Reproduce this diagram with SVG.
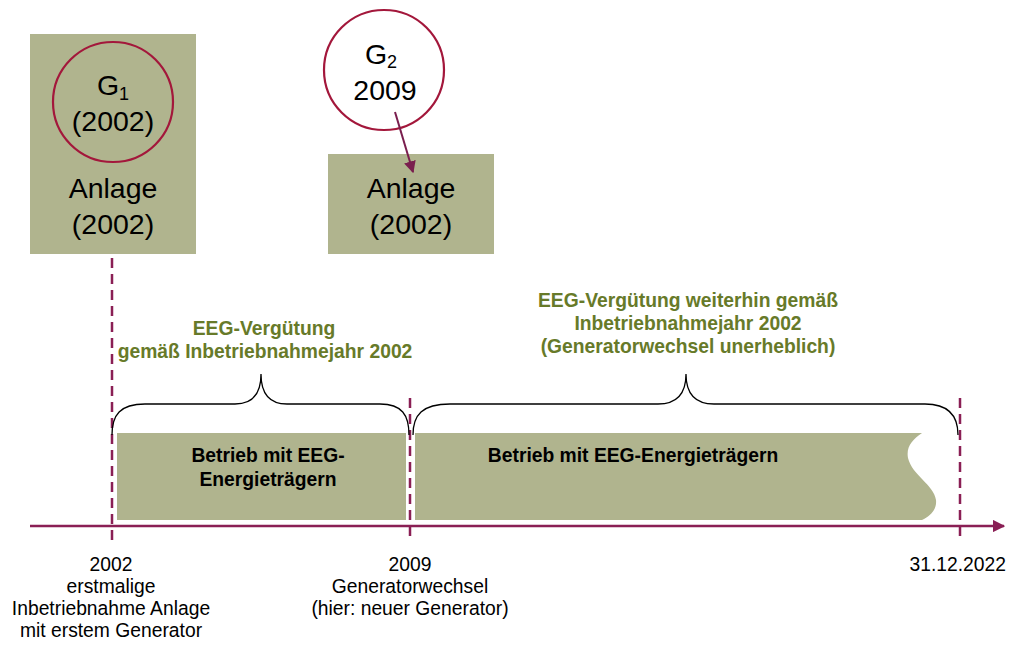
<svg xmlns="http://www.w3.org/2000/svg" width="1009" height="645" viewBox="0 0 1009 645">
<defs>
<style>
.box{fill:#b0b48e}
.circ{fill:none;stroke:#a3173b;stroke-width:2.2}
.t{font-family:"Liberation Sans",Arial,sans-serif;fill:#000;text-anchor:middle}
.end{text-anchor:end}
.big{font-size:28.5px}
.lbl{font-size:19.3px}
.bold{font-size:19.3px;font-weight:bold}
.green{font-family:"Liberation Sans",Arial,sans-serif;font-size:19.3px;font-weight:bold;fill:#677a29;text-anchor:middle}
.dash{stroke:#8a1f55;stroke-width:2.5;stroke-dasharray:10 6;fill:none}
.brace{fill:none;stroke:#000;stroke-width:1.3}
</style>
<marker id="ah" viewBox="0 0 10 10" refX="9" refY="5" markerWidth="5" markerHeight="5" orient="auto" markerUnits="strokeWidth">
<path d="M0,0 L10,5 L0,10 z" fill="#8a1f55"/>
</marker>
<marker id="ah2" viewBox="0 0 10 10" refX="9" refY="5" markerWidth="6" markerHeight="6" orient="auto" markerUnits="strokeWidth">
<path d="M0,0 L10,5 L0,10 z" fill="#7a1e4e"/>
</marker>
</defs>

<g id="anlage1">
<rect class="box" x="30" y="34" width="166" height="220"/>
<circle class="circ" cx="113" cy="102" r="60"/>
<text class="t big" x="113" y="95">G<tspan font-size="18" dy="5">1</tspan></text>
<text class="t big" x="113" y="131">(2002)</text>
<text class="t big" x="113" y="198">Anlage</text>
<text class="t big" x="113" y="234">(2002)</text>
</g>

<g id="generator2">
<circle class="circ" cx="384" cy="70" r="60"/>
<text class="t big" x="381" y="64">G<tspan font-size="18" dy="4">2</tspan></text>
<text class="t big" x="385" y="100">2009</text>
</g>

<g id="anlage2">
<rect class="box" x="328" y="154" width="166" height="100"/>
<text class="t big" x="411" y="198">Anlage</text>
<text class="t big" x="411" y="234">(2002)</text>
</g>

<g id="betrieb1">
<rect class="box" x="117" y="433" width="289" height="87"/>
<text class="t bold" x="268" y="462">Betrieb mit EEG-</text>
<text class="t bold" x="268" y="486">Energieträgern</text>
</g>

<g id="betrieb2">
<path class="box" d="M415,433 L922,433 C912,440 906,447 908,458 C912,475 934,485 936,500 C937,510 930,516 922,520 L415,520 z"/>
<text class="t bold" x="633" y="462">Betrieb mit EEG-Energieträgern</text>
</g>

<g id="verguetung1">
<text class="green" x="264" y="335">EEG-Vergütung</text>
<text class="green" x="265" y="358">gemäß Inbetriebnahmejahr 2002</text>
</g>

<g id="verguetung2">
<text class="green" x="688" y="307">EEG-Vergütung weiterhin gemäß</text>
<text class="green" x="688" y="330">Inbetriebnahmejahr 2002</text>
<text class="green" x="688" y="353">(Generatorwechsel unerheblich)</text>
</g>

<g id="label2002">
<text class="t lbl" x="111" y="571">2002</text>
<text class="t lbl" x="111" y="593">erstmalige</text>
<text class="t lbl" x="111" y="615">Inbetriebnahme Anlage</text>
<text class="t lbl" x="111" y="637">mit erstem Generator</text>
</g>

<g id="label2009">
<text class="t lbl" x="410" y="571">2009</text>
<text class="t lbl" x="410" y="593">Generatorwechsel</text>
<text class="t lbl" x="410" y="615">(hier: neuer Generator)</text>
</g>

<g id="label2022">
<text class="t lbl end" x="1006" y="571">31.12.2022</text>
</g>

<g id="connectors">
<line class="dash" x1="112" y1="258" x2="112" y2="540"/>
<line class="dash" x1="410" y1="398" x2="410" y2="540"/>
<line class="dash" x1="960" y1="398" x2="960" y2="540"/>
<line x1="30" y1="526" x2="1004" y2="526" stroke="#8a1f55" stroke-width="2.5" marker-end="url(#ah)"/>
<line x1="395" y1="112" x2="413" y2="172" stroke="#7a1e4e" stroke-width="2" marker-end="url(#ah2)"/>
<path class="brace" d="M112,435 C112,415 120,404 145,404 L235,404 C252,404 261,395 261,374 C261,395 270,404 287,404 L380,404 C402,404 409,415 409,435"/>
<path class="brace" d="M413,435 C413,415 422,404 450,404 L658,404 C676,404 686,395 686,374 C686,395 696,404 714,404 L925,404 C948,404 958,415 958,435"/>
</g>
</svg>
